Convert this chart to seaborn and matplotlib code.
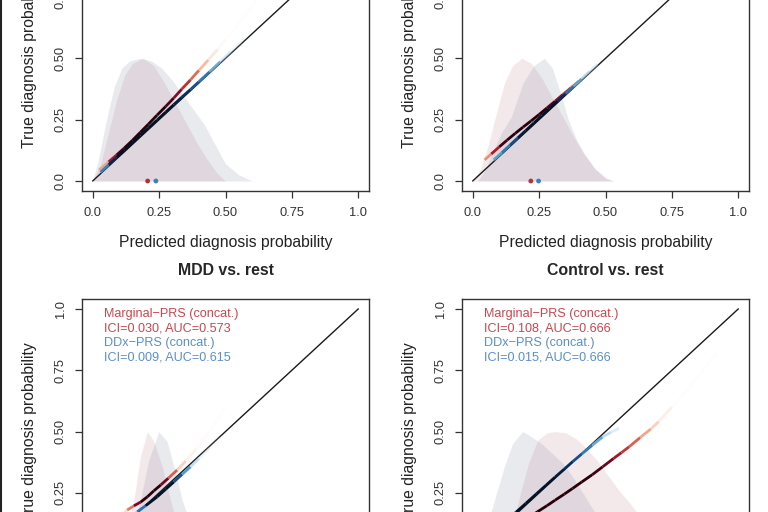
import numpy as np
import matplotlib
matplotlib.use("Agg")
import matplotlib.pyplot as plt
from matplotlib.collections import LineCollection
from matplotlib.colors import LinearSegmentedColormap
import seaborn as sns

# ---- data (order: top-left, top-right, bottom-left, bottom-right)
titles = [None, None, "MDD vs. rest", "Control vs. rest"]

ici_marg = [None, None, 0.030, 0.108]
auc_marg = [None, None, 0.573, 0.666]
ici_ddx = [None, None, 0.009, 0.015]
auc_ddx = [None, None, 0.615, 0.666]

# mean predicted probability dots (only visible in the top row)
dot_red_x = [0.207, 0.219, None, None]
dot_blue_x = [0.238, 0.248, None, None]

# density of predictions (scaled so the peak is 0.5)
tl_red_dx = [0.00, 0.03, 0.06, 0.09, 0.12, 0.15, 0.19, 0.23, 0.27, 0.31, 0.35, 0.39, 0.43, 0.47, 0.50]
tl_red_dy = [0.00, 0.07, 0.20, 0.33, 0.43, 0.48, 0.50, 0.47, 0.40, 0.32, 0.24, 0.16, 0.09, 0.03, 0.00]
tl_blue_dx = [0.00, 0.02, 0.05, 0.08, 0.11, 0.14, 0.18, 0.22, 0.26, 0.30, 0.34, 0.38, 0.42, 0.46, 0.50, 0.55, 0.60]
tl_blue_dy = [0.00, 0.08, 0.24, 0.38, 0.46, 0.49, 0.50, 0.49, 0.46, 0.41, 0.35, 0.29, 0.23, 0.15, 0.07, 0.025, 0.00]

tr_red_dx = [0.00, 0.03, 0.06, 0.09, 0.12, 0.15, 0.185, 0.22, 0.26, 0.30, 0.34, 0.38, 0.42, 0.46, 0.50, 0.53]
tr_red_dy = [0.00, 0.05, 0.15, 0.28, 0.40, 0.47, 0.50, 0.48, 0.42, 0.34, 0.26, 0.18, 0.11, 0.05, 0.015, 0.00]
tr_blue_dx = [0.02, 0.05, 0.08, 0.11, 0.145, 0.19, 0.23, 0.27, 0.30, 0.33, 0.36, 0.39, 0.42, 0.46, 0.50, 0.53]
tr_blue_dy = [0.00, 0.05, 0.13, 0.20, 0.26, 0.40, 0.47, 0.50, 0.46, 0.36, 0.25, 0.17, 0.11, 0.05, 0.01, 0.00]

bl_red_dx = [0.06, 0.10, 0.13, 0.155, 0.18, 0.206, 0.23, 0.262, 0.293, 0.32, 0.35, 0.39, 0.44]
bl_red_dy = [0.00, 0.03, 0.10, 0.22, 0.40, 0.50, 0.46, 0.356, 0.22, 0.12, 0.05, 0.015, 0.00]
bl_blue_dx = [0.08, 0.12, 0.15, 0.18, 0.21, 0.249, 0.28, 0.306, 0.337, 0.37, 0.40, 0.44, 0.50]
bl_blue_dy = [0.00, 0.03, 0.10, 0.22, 0.38, 0.50, 0.46, 0.356, 0.22, 0.12, 0.06, 0.02, 0.00]

br_red_dx = [0.08, 0.12, 0.15, 0.18, 0.21, 0.245, 0.28, 0.31, 0.35, 0.39, 0.43, 0.47, 0.51, 0.55, 0.59, 0.64, 0.70, 0.76]
br_red_dy = [0.00, 0.04, 0.12, 0.25, 0.37, 0.465, 0.495, 0.50, 0.495, 0.47, 0.43, 0.38, 0.32, 0.26, 0.21, 0.14, 0.07, 0.00]
br_blue_dx = [0.00, 0.03, 0.06, 0.09, 0.12, 0.15, 0.188, 0.22, 0.26, 0.30, 0.34, 0.38, 0.42, 0.46, 0.50, 0.55, 0.60]
br_blue_dy = [0.00, 0.05, 0.14, 0.25, 0.36, 0.45, 0.50, 0.48, 0.45, 0.41, 0.37, 0.31, 0.24, 0.17, 0.10, 0.04, 0.00]

# calibration curves
tl_red_cx = [0.024, 0.06, 0.09, 0.118, 0.15, 0.18, 0.21, 0.243, 0.275, 0.305, 0.335, 0.368, 0.40, 0.435, 0.469, 0.50, 0.54, 0.58, 0.62]
tl_red_cy = [0.045, 0.078, 0.106, 0.133, 0.166, 0.199, 0.232, 0.269, 0.304, 0.338, 0.374, 0.412, 0.451, 0.493, 0.535, 0.575, 0.628, 0.685, 0.74]
tl_blue_cx = [0.03, 0.06, 0.09, 0.12, 0.15, 0.18, 0.21, 0.243, 0.275, 0.305, 0.335, 0.368, 0.40, 0.44, 0.48, 0.52, 0.56, 0.60]
tl_blue_cy = [0.036, 0.066, 0.096, 0.125, 0.155, 0.186, 0.216, 0.249, 0.281, 0.311, 0.341, 0.373, 0.405, 0.445, 0.486, 0.527, 0.568, 0.61]

tr_red_cx = [0.045, 0.07, 0.10, 0.13, 0.16, 0.19, 0.22, 0.25, 0.28, 0.31, 0.34, 0.37, 0.40]
tr_red_cy = [0.086, 0.11, 0.139, 0.167, 0.194, 0.220, 0.245, 0.271, 0.298, 0.325, 0.353, 0.38, 0.407]
tr_blue_cx = [0.08, 0.11, 0.14, 0.17, 0.20, 0.23, 0.26, 0.29, 0.32, 0.35, 0.38, 0.41, 0.44, 0.47]
tr_blue_cy = [0.086, 0.116, 0.146, 0.176, 0.206, 0.236, 0.266, 0.296, 0.326, 0.356, 0.386, 0.416, 0.446, 0.476]

bl_red_cx = [0.08, 0.105, 0.13, 0.155, 0.18, 0.206, 0.23, 0.256, 0.285, 0.318, 0.35, 0.39, 0.44, 0.50]
bl_red_cy = [0.125, 0.155, 0.18, 0.197, 0.212, 0.234, 0.258, 0.282, 0.31, 0.343, 0.38, 0.43, 0.50, 0.60]
bl_blue_cx = [0.10, 0.135, 0.168, 0.20, 0.243, 0.275, 0.306, 0.337, 0.368, 0.40, 0.44, 0.48]
bl_blue_cy = [0.105, 0.14, 0.173, 0.198, 0.234, 0.265, 0.295, 0.326, 0.356, 0.39, 0.433, 0.475]

br_red_cx = [0.10, 0.14, 0.17, 0.21, 0.244, 0.28, 0.31, 0.345, 0.376, 0.41, 0.45, 0.489, 0.53, 0.56, 0.589, 0.63, 0.67, 0.70, 0.75, 0.80, 0.86, 0.92]
br_red_cy = [0.075, 0.10, 0.12, 0.148, 0.173, 0.198, 0.22, 0.245, 0.268, 0.294, 0.324, 0.356, 0.39, 0.414, 0.438, 0.475, 0.51, 0.54, 0.60, 0.66, 0.74, 0.82]
br_blue_cx = [0.06, 0.09, 0.12, 0.163, 0.20, 0.24, 0.276, 0.31, 0.345, 0.376, 0.41, 0.45, 0.489, 0.52, 0.551]
br_blue_cy = [0.065, 0.096, 0.127, 0.171, 0.207, 0.246, 0.281, 0.314, 0.347, 0.377, 0.408, 0.444, 0.478, 0.497, 0.513]

dens = [
    (tl_red_dx, tl_red_dy, tl_blue_dx, tl_blue_dy),
    (tr_red_dx, tr_red_dy, tr_blue_dx, tr_blue_dy),
    (bl_red_dx, bl_red_dy, bl_blue_dx, bl_blue_dy),
    (br_red_dx, br_red_dy, br_blue_dx, br_blue_dy),
]
curves = [
    (tl_red_cx, tl_red_cy, tl_blue_cx, tl_blue_cy),
    (tr_red_cx, tr_red_cy, tr_blue_cx, tr_blue_cy),
    (bl_red_cx, bl_red_cy, bl_blue_cx, bl_blue_cy),
    (br_red_cx, br_red_cy, br_blue_cx, br_blue_cy),
]

ticks = [0.0, 0.25, 0.5, 0.75, 1.0]
tick_labels = ["0.0", "0.25", "0.50", "0.75", "1.0"]

# ---- style
sns.set_style("ticks")
plt.rcParams["font.family"] = ["Liberation Sans", "DejaVu Sans"]

RED_TXT = "#c9474f"
BLUE_TXT = "#5b8fc9"
red_cmap = LinearSegmentedColormap.from_list(
    "reds", [(0.0, "#fddbc7"), (0.25, "#f4a582"), (0.45, "#d6604d"),
             (0.62, "#b2182b"), (0.80, "#67001f"), (1.0, "#2a0008")])
blue_cmap = LinearSegmentedColormap.from_list(
    "blues", [(0.0, "#d1e5f0"), (0.25, "#92c5de"), (0.45, "#4393c3"),
              (0.62, "#2166ac"), (0.80, "#053061"), (1.0, "#02122a")])


def gradient_line(ax, xs, ys, dx, dy, cmap):
    # colour / opacity of each piece follows the density of predictions there
    pts = np.column_stack([xs, ys])
    segs = np.stack([pts[:-1], pts[1:]], axis=1)
    mid = 0.5 * (np.asarray(xs[:-1]) + np.asarray(xs[1:]))
    t = np.interp(mid, dx, dy, left=0, right=0) / 0.5
    cols = cmap(np.clip(t * 1.2, 0, 1))
    cols[:, 3] = np.clip(0.04 + 3.0 * t, 0, 1)
    lc = LineCollection(segs, colors=cols, linewidths=2.0, capstyle="butt", zorder=4)
    ax.add_collection(lc)


fig = plt.figure(figsize=(7.68, 5.12), dpi=100)
positions = [
    [0.1068, 0.6273, 0.3737, 0.5176],
    [0.6016, 0.6273, 0.3737, 0.5176],
    [0.1068, -0.1016, 0.3737, 0.5176],
    [0.6016, -0.1016, 0.3737, 0.5176],
]

for i, pos in enumerate(positions):
    ax = fig.add_axes(pos)
    rdx, rdy, bdx, bdy = dens[i]
    rcx, rcy, bcx, bcy = curves[i]

    # densities
    ax.fill_between(rdx, 0, rdy, color="#a05060", alpha=0.12, lw=0, zorder=1)
    ax.fill_between(bdx, 0, bdy, color="#505a78", alpha=0.12, lw=0, zorder=1)

    # identity line
    sns.lineplot(x=[0, 1], y=[0, 1], ax=ax, color="#1a1a1a", lw=1.0, zorder=3)

    gradient_line(ax, rcx, rcy, rdx, rdy, red_cmap)
    gradient_line(ax, bcx, bcy, bdx, bdy, blue_cmap)

    if dot_red_x[i] is not None:
        sns.scatterplot(x=[dot_red_x[i]], y=[0], ax=ax, color="#b5313a", s=12,
                        edgecolor="none", zorder=5)
        sns.scatterplot(x=[dot_blue_x[i]], y=[0], ax=ax, color="#3d7ebf", s=12,
                        edgecolor="none", zorder=5)

    if ici_marg[i] is not None:
        lines = [
            ("Marginal\u2212PRS (concat.)", RED_TXT),
            (f"ICI={ici_marg[i]:.3f}, AUC={auc_marg[i]:.3f}", RED_TXT),
            ("DDx\u2212PRS (concat.)", BLUE_TXT),
            (f"ICI={ici_ddx[i]:.3f}, AUC={auc_ddx[i]:.3f}", BLUE_TXT),
        ]
        for k, (txt, col) in enumerate(lines):
            ax.text(0.043, 0.98 - 0.0595 * k, txt, color=col, fontsize=9.1,
                    ha="left", va="center")

    ax.set_xlim(-0.04, 1.04)
    ax.set_ylim(-0.04, 1.04)
    ax.set_xticks(ticks)
    ax.set_xticklabels(tick_labels)
    ax.set_yticks(ticks)
    ax.set_yticklabels(tick_labels, rotation=90, va="center")
    ax.tick_params(axis="both", direction="out", length=5, width=0.9,
                   color="#333333", labelcolor="#333333", labelsize=9.3)
    ax.tick_params(axis="x", pad=7)
    ax.tick_params(axis="y", pad=6)
    for sp in ax.spines.values():
        sp.set_visible(True)
        sp.set_color("#333333")
        sp.set_linewidth(1.0)

    ax.set_xlabel("Predicted diagnosis probability", fontsize=11.3,
                  color="#222222", labelpad=11)
    ax.set_ylabel("True diagnosis probability", fontsize=11.3,
                  color="#222222", labelpad=13)
    if titles[i] is not None:
        ax.set_title(titles[i], fontsize=11.4, fontweight="bold", pad=17)

# thin dark frame edge on the left of the screenshot
fig.add_artist(plt.Line2D([0.0015, 0.0015], [0, 1], transform=fig.transFigure,
                          color="#222222", lw=1.5))

fig.savefig("out.png", dpi=100)
